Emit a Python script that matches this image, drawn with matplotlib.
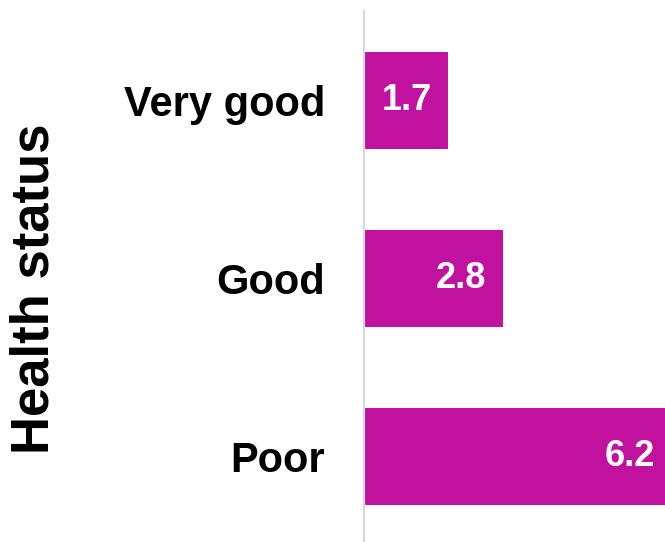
import matplotlib
matplotlib.use("Agg")
import matplotlib.pyplot as plt
from matplotlib import font_manager as fm

categories = ["Very good", "Good", "Poor"]
values = [1.7, 2.8, 6.2]
value_labels = ["1.7", "2.8", "6.2"]
axis_title = "Health status"

bold_file = None
for f in fm.findSystemFonts():
    if f.endswith("LiberationSans-Bold.ttf"):
        bold_file = f
        break

def fp(size):
    if bold_file:
        return fm.FontProperties(fname=bold_file, size=size)
    return fm.FontProperties(family="Liberation Sans", weight="bold", size=size)

W, H = 665, 542
fig = plt.figure(figsize=(W / 100, H / 100), dpi=100)

ax = fig.add_axes([364 / W, 0, 1 - 364 / W, (H - 11) / H])
ypos = list(range(len(categories)))
color = "#C0119F"
ax.barh(ypos, values, height=0.545, color=color, left=0)
ax.set_xlim(0, (W - 364) / 49.6)
ax.set_ylim(2.48, -0.5)

for y, v, lab in zip(ypos, values, value_labels):
    ax.annotate(lab, xy=(v, y), xytext=(-12, 0), textcoords="offset points",
                ha="right", va="center", color="white",
                fontproperties=fp(26), annotation_clip=False)

ax.set_yticks(ypos)
ax.set_yticklabels(categories, fontproperties=fp(30))
ax.tick_params(axis="y", length=0, pad=28)
ax.set_xticks([])
for s in ["top", "right", "bottom"]:
    ax.spines[s].set_visible(False)
ax.spines["left"].set_color("#d9d9d9")
ax.spines["left"].set_linewidth(1.6)

fig.text(35 / W, 1 - 288.5 / H, axis_title, rotation=90, ha="center", va="center",
         fontproperties=fp(38))

fig.savefig("out.png", dpi=100)
